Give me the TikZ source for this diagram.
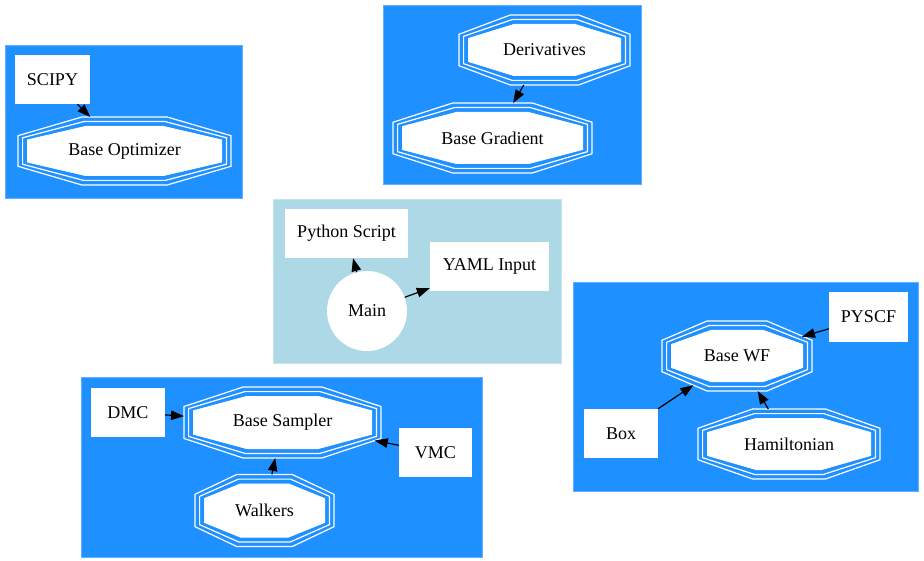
\documentclass[tikz,border=0pt]{standalone}
\usepackage{fontspec}
\setmainfont{Liberation Serif}
\usetikzlibrary{arrows.meta}
\definecolor{dodger}{RGB}{30,144,255}
\definecolor{lblue}{RGB}{173,216,230}
\pgfdeclarelayer{bglayer}
\pgfdeclarelayer{octlayer}
\pgfsetlayers{bglayer,octlayer,main}
\tikzset{
  lbl/.style={font=\fontsize{18}{20}\selectfont},
  cluster/.style={fill=dodger, draw=dodger!70!white, line width=0.6pt},
  clusterl/.style={fill=lblue, draw=lblue!70!white, line width=0.6pt},
  box/.style 2 args={rectangle, fill=white, inner sep=0pt, minimum width=#1, minimum height=#2, lbl},
  octnode/.style 2 args={rectangle, inner sep=0pt, outer sep=0pt, minimum width={2*#1}, minimum height={2*#2}, lbl},
  octline/.style={draw=white, line width=1.2pt},
  octfill/.style={fill=white, draw=white, line width=0.8pt},
  edge/.style={draw=black, line width=1.2pt, -{Triangle[length=13pt,width=9.5pt]}},
}
% #1 node name, #2 half width, #3 half height, #4 inset, #5 style
\newcommand\myoct[5]{%
  \pgfmathsetmacro\myoa{#2-#4}\pgfmathsetmacro\myob{#3-#4}%
  \pgfmathsetmacro\myka{0.40*\myoa}\pgfmathsetmacro\mykb{0.45*\myob}%
  \path[#5, shift={(#1.center)}] (-\myoa,-\mykb) -- (-\myka,-\myob) -- (\myka,-\myob) -- (\myoa,-\mykb)
     -- (\myoa,\mykb) -- (\myka,\myob) -- (-\myka,\myob) -- (-\myoa,\mykb) -- cycle;}
\newcommand\tripleoct[3]{%
  \begin{pgfonlayer}{octlayer}
  \myoct{#1}{#2}{#3}{0}{octline}
  \myoct{#1}{#2}{#3}{4.6}{octline}
  \myoct{#1}{#2}{#3}{9.4}{octfill}
  \end{pgfonlayer}}
\begin{document}
\begin{tikzpicture}[x=1pt,y=-1pt]
\useasboundingbox (0,0) rectangle (924,561);
% clusters
\begin{pgfonlayer}{bglayer}
\fill[white] (0,0) rectangle (924,561);
\draw[cluster] (5,45) rectangle (242,198);
\draw[cluster] (383,5) rectangle (641,184);
\draw[clusterl] (273,199) rectangle (561,363);
\draw[cluster] (573,282) rectangle (918,491);
\draw[cluster] (81,377) rectangle (482,557);
\end{pgfonlayer}
% optimizer
\node[box={75}{49}] (scipy) at (52.5,79.5) {SCIPY};
\node[octnode={106.5}{34}] (bo) at (124.5,151) {Base Optimizer};
\tripleoct{bo}{106.5}{34}
% gradient
\node[octnode={85.5}{35}] (der) at (544.5,50) {Derivatives};
\tripleoct{der}{85.5}{35}
\node[octnode={99.5}{35}] (bg) at (492.5,138) {Base Gradient};
\tripleoct{bg}{99.5}{35}
% main
\node[box={123}{49}] (py) at (346.5,233.5) {Python Script};
\node[box={119}{49}] (yaml) at (489.5,266.5) {YAML Input};
\node[circle, fill=white, inner sep=0pt, minimum size=80, lbl] (main) at (367,311) {Main};
% wf
\node[box={79}{50}] (pyscf) at (868.5,317) {PYSCF};
\node[box={74}{49}] (boxn) at (621,433.5) {Box};
\node[octnode={75}{35}] (wf) at (737,356) {Base WF};
\tripleoct{wf}{75}{35}
\node[octnode={91}{35}] (ham) at (789,444) {Hamiltonian};
\tripleoct{ham}{91}{35}
% sampler
\node[box={74}{49}] (dmc) at (128,412.5) {DMC};
\node[box={73}{49}] (vmc) at (435.5,452.5) {VMC};
\node[octnode={98.5}{35.5}] (bs) at (282.5,422.5) {Base Sampler};
\tripleoct{bs}{98.5}{35.5}
\node[octnode={69.5}{36}] (wal) at (264.5,510.5) {Walkers};
\tripleoct{wal}{69.5}{36}
% edges
\draw[edge] (scipy) -- (bo);
\draw[edge] (der) -- (bg);
\draw[edge] (main) -- (py);
\draw[edge] (main) -- (yaml);
\draw[edge, shorten >=-10.5pt] (pyscf) -- (wf);
\draw[edge, shorten >=-10.5pt] (boxn) -- (wf);
\draw[edge] (ham) -- (wf);
\draw[edge] (dmc) -- (bs);
\draw[edge, shorten >=-6.4pt] (vmc) -- (bs);
\draw[edge] (wal) -- (bs);
\end{tikzpicture}
\end{document}
